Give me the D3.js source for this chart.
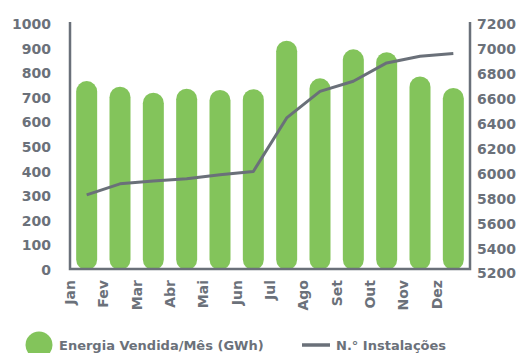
<!DOCTYPE html>
<html>
<head>
<meta charset="utf-8">
<script src="https://cdn.jsdelivr.net/npm/d3@7"></script>
<style>
  html, body { margin: 0; padding: 0; background: #ffffff; }
  svg { display: block; font-family: "DejaVu Sans", sans-serif; font-weight: bold; }
</style>
</head>
<body>
<svg id="chart" width="518" height="353"></svg>
<script>
// Monthly data
const months = ["Jan", "Fev", "Mar", "Abr", "Mai", "Jun", "Jul", "Ago", "Set", "Out", "Nov", "Dez"];
const energySold = [768, 745, 721, 737, 732, 735, 932, 779, 897, 885, 787, 740];      // GWh
const installations = [5830, 5919, 5941, 5959, 5991, 6018, 6447, 6660, 6741, 6888, 6941, 6963];
const leftTicks = [0, 100, 200, 300, 400, 500, 600, 700, 800, 900, 1000];
const rightTicks = [5200, 5400, 5600, 5800, 6000, 6200, 6400, 6600, 6800, 7000, 7200];
const legendLabels = ["Energia Vendida/Mês (GWh)", "N.° Instalações"];

const green = "#83c45b";
const grey = "#6a7079";
const textGrey = "#6b717a";

const svg = d3.select("#chart");

const plotLeft = 70, plotRight = 470, plotTop = 22, plotBottom = 269;

const x = d3.scaleBand().domain(months).range([plotLeft, plotRight])
  .paddingInner(0.37).paddingOuter(0.185);
const y0 = d3.scaleLinear().domain([0, 1000]).range([270, 24]);
const y1 = d3.scaleLinear().domain([5200, 7200]).range([273.5, 24]);

// Bars with fully rounded ends
const bw = x.bandwidth();
svg.append("g").selectAll("rect")
  .data(months)
  .join("rect")
  .attr("x", d => x(d))
  .attr("y", (d, i) => y0(energySold[i]))
  .attr("width", bw)
  .attr("height", (d, i) => y0(0) - y0(energySold[i]))
  .attr("rx", bw / 2)
  .attr("ry", bw / 2)
  .attr("fill", green);

// Installations line
const line = d3.line()
  .x((d, i) => x(months[i]) + bw / 2)
  .y(d => y1(d));
svg.append("path")
  .datum(installations)
  .attr("d", line)
  .attr("fill", "none")
  .attr("stroke", grey)
  .attr("stroke-width", 3)
  .attr("stroke-linejoin", "round");

// Frame: left, bottom and right axis lines
const frame = svg.append("g").attr("stroke", grey).attr("stroke-width", 2.5).attr("fill", "none");
frame.append("path").attr("d", `M${plotLeft},${plotTop}V${plotBottom}H${plotRight}V${plotTop}`);

// Left axis labels
const leftAxis = svg.append("g")
  .attr("transform", `translate(${plotLeft},0)`)
  .call(d3.axisLeft(y0).tickValues(leftTicks).tickSize(0).tickPadding(19).tickFormat(d3.format("d")));
leftAxis.select(".domain").remove();

// Right axis labels
const rightAxis = svg.append("g")
  .attr("transform", `translate(${plotRight},0)`)
  .call(d3.axisRight(y1).tickValues(rightTicks).tickSize(0).tickPadding(7).tickFormat(d3.format("d")));
rightAxis.select(".domain").remove();

svg.selectAll(".tick text")
  .attr("fill", textGrey)
  .style("font-family", "'DejaVu Sans', sans-serif")
  .style("font-weight", "bold")
  .style("font-size", "14px");

// Month labels, rotated, centred on the band boundaries
svg.append("g").selectAll("text")
  .data(months)
  .join("text")
  .attr("transform", d => `translate(${x(d) + bw / 2 - x.step() / 2},280) rotate(-90)`)
  .attr("dy", "0.36em")
  .attr("text-anchor", "end")
  .attr("fill", textGrey)
  .style("font-size", "14px")
  .text(d => d);

// Legend
const legend = svg.append("g");
legend.append("circle").attr("cx", 39).attr("cy", 345).attr("r", 13.5).attr("fill", green);
legend.append("text").attr("x", 59).attr("y", 350).attr("fill", textGrey)
  .style("font-size", "13px").text(legendLabels[0]);
legend.append("line").attr("x1", 302).attr("x2", 330).attr("y1", 345).attr("y2", 345)
  .attr("stroke", grey).attr("stroke-width", 3.5);
legend.append("text").attr("x", 336).attr("y", 350).attr("fill", textGrey)
  .style("font-size", "13px").text(legendLabels[1]);
</script>
</body>
</html>
